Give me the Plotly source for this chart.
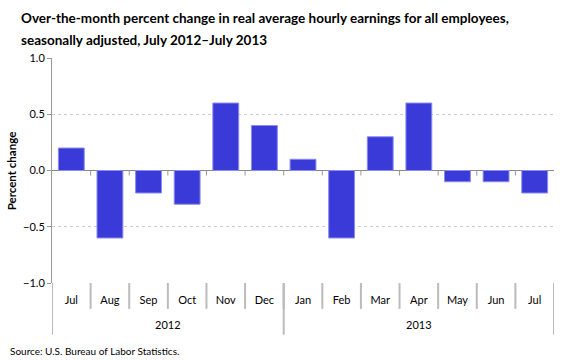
import plotly.graph_objects as go

years = ["2012", "2013"]
year_counts = [6, 7]
months = ["Jul", "Aug", "Sep", "Oct", "Nov", "Dec", "Jan", "Feb", "Mar", "Apr", "May", "Jun", "Jul"]
values = [0.2, -0.6, -0.2, -0.3, 0.6, 0.4, 0.1, -0.6, 0.3, 0.6, -0.1, -0.1, -0.2]
y_ticks = [-1.0, -0.5, 0.0, 0.5, 1.0]

FONT = "Lato, Open Sans, sans-serif"
SEP = "#bbbbbb"

idx = list(range(len(months)))

fig = go.Figure()
fig.add_trace(go.Bar(
    x=idx,
    y=values,
    width=0.67,
    marker=dict(color="#3a3ad9", line=dict(color="#8c8cf0", width=1)),
))

shapes = []
for i in range(len(months) + 1):
    b = i - 0.5
    shapes.append(dict(type="line", xref="x", yref="paper", x0=b, x1=b, y0=0, y1=-0.115,
                       line=dict(color=SEP, width=2)))
    if 0 < i < len(months):
        shapes.append(dict(type="line", xref="x", yref="y", x0=b, x1=b, y0=0, y1=-0.045,
                           line=dict(color="#999999", width=1)))
annotations = []
start = 0
bounds = [-0.5]
for y, c in zip(years, year_counts):
    annotations.append(dict(text=y, xref="x", yref="paper", x=start + (c - 1) / 2, y=-0.185,
                            xanchor="center", yanchor="middle", showarrow=False,
                            font=dict(family=FONT, size=11, color="#000")))
    start += c
    bounds.append(start - 0.5)
for b in bounds:
    shapes.append(dict(type="line", xref="x", yref="paper", x0=b, x1=b, y0=0, y1=-0.23,
                       line=dict(color=SEP, width=2)))

annotations += [
    dict(text="<b>Over-the-month percent change in real average hourly earnings for all employees,</b>",
         xref="paper", yref="paper", x=-0.066, y=1.178, xanchor="left", yanchor="middle",
         showarrow=False, font=dict(family=FONT, size=13.5, color="#000")),
    dict(text="<b>seasonally adjusted, July 2012\u2013July 2013</b>",
         xref="paper", yref="paper", x=-0.066, y=1.08, xanchor="left", yanchor="middle",
         showarrow=False, font=dict(family=FONT, size=13.5, color="#000")),
    dict(text="<b>Percent change</b>", textangle=-90,
         xref="paper", yref="paper", x=-0.08, y=0.5, xanchor="center", yanchor="middle",
         showarrow=False, font=dict(family=FONT, size=11.5, color="#000")),
    dict(text="Source: U.S. Bureau of Labor Statistics.",
         xref="paper", yref="paper", x=-0.088, y=-0.3, xanchor="left", yanchor="middle",
         showarrow=False, font=dict(family=FONT, size=10, color="#000")),
]

fig.update_layout(
    width=580, height=361,
    margin=dict(l=52, r=26, t=58, b=78, autoexpand=False),
    paper_bgcolor="white", plot_bgcolor="white",
    showlegend=False,
    font=dict(family=FONT, size=11, color="#000"),
    shapes=shapes,
    annotations=annotations,
)
fig.update_yaxes(
    range=[-1.0, 1.0], tickvals=y_ticks, tickformat=".1f",
    showgrid=True, gridcolor="#cccccc", griddash="dot", gridwidth=1,
    showline=True, linecolor="#999999", linewidth=1,
    ticks="outside", ticklen=4, tickcolor="#999999",
    zeroline=True, zerolinecolor="#888888", zerolinewidth=1,
    automargin=False,
)
fig.update_xaxes(
    range=[-0.5, len(months) - 0.5],
    tickvals=idx, ticktext=months,
    showline=False, showgrid=False, zeroline=False,
    ticks="", ticklabelstandoff=9, automargin=False,
    tickfont=dict(size=11),
)

fig.write_html("out.html", config={"displayModeBar": False},
               post_script="document.body.style.margin='0px';")
